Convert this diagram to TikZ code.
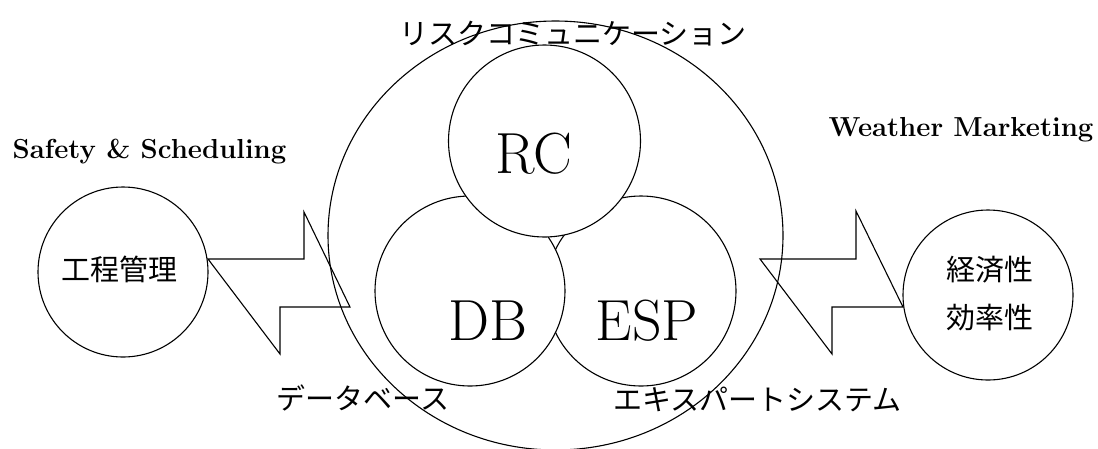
\documentclass[tikz,border=0pt]{standalone}
\usepackage{fontspec}
\newfontfamily\cjk{Noto Sans CJK JP}
\usetikzlibrary{shapes.geometric}
\tikzset{
  ring/.style={draw, circle, line width=1.1pt, inner sep=0pt, fill=white},
  bigtxt/.style={font=\fontsize{58}{60}\selectfont, inner sep=0pt, anchor=base},
  lat/.style={font=\bfseries\fontsize{27.5}{30}\selectfont, inner sep=0pt, anchor=base},
  jp/.style={font=\cjk\fontsize{29}{32}\selectfont, inner sep=0pt},
  bolt/.style={draw, line width=1.1pt, line join=miter}
}
\begin{document}
\begin{tikzpicture}[x=1pt, y=-1pt]
\useasboundingbox[fill=white] (0,0) rectangle (1098,448);
% big ellipse
\node[draw, ellipse, line width=1.1pt, inner sep=0pt, minimum width=455pt, minimum height=429pt] (outer) at (555.5,235.5) {};
% inner circles (ESP behind DB behind RC)
\node[ring, minimum size=190pt] (esp) at (641,291) {};
\node[ring, minimum size=190pt] (db) at (470,291) {};
\node[ring, minimum size=192pt] (rc) at (544.5,141) {};
% side circles
\node[ring, minimum size=170pt] (left) at (123,272) {};
\node[ring, minimum size=170pt] (right) at (988,295) {};
% bolt arrows
\draw[bolt] (208,259) -- (304,259) -- (304,212) -- (350,307) -- (280,307) -- (280,354) -- cycle;
\draw[bolt] (760,259) -- (856,259) -- (856,211) -- (903,307) -- (832,307) -- (832,354) -- cycle;
% big labels
\node[bigtxt] (rct) at (533.5,173) {RC};
\node[bigtxt] (dbt) at (487.5,340) {DB};
\node[bigtxt] (espt) at (647,340) {ESP};
% latin labels
\node[lat] (safety) at (149.5,158) {Safety \& Scheduling};
\node[lat] (weather) at (961,136) {Weather Marketing};
% japanese labels
\node[jp] (risk) at (573,34) {リスクコミュニケーション};
\node[jp] (dbj) at (363,398) {データベース};
\node[jp] (espj) at (757.5,399) {エキスパートシステム};
\node[jp] (kotei) at (119.5,269) {工程管理};
\node[jp] (keizai) at (990,270) {経済性};
\node[jp] (koritsu) at (990,317.5) {効率性};
\end{tikzpicture}
\end{document}
